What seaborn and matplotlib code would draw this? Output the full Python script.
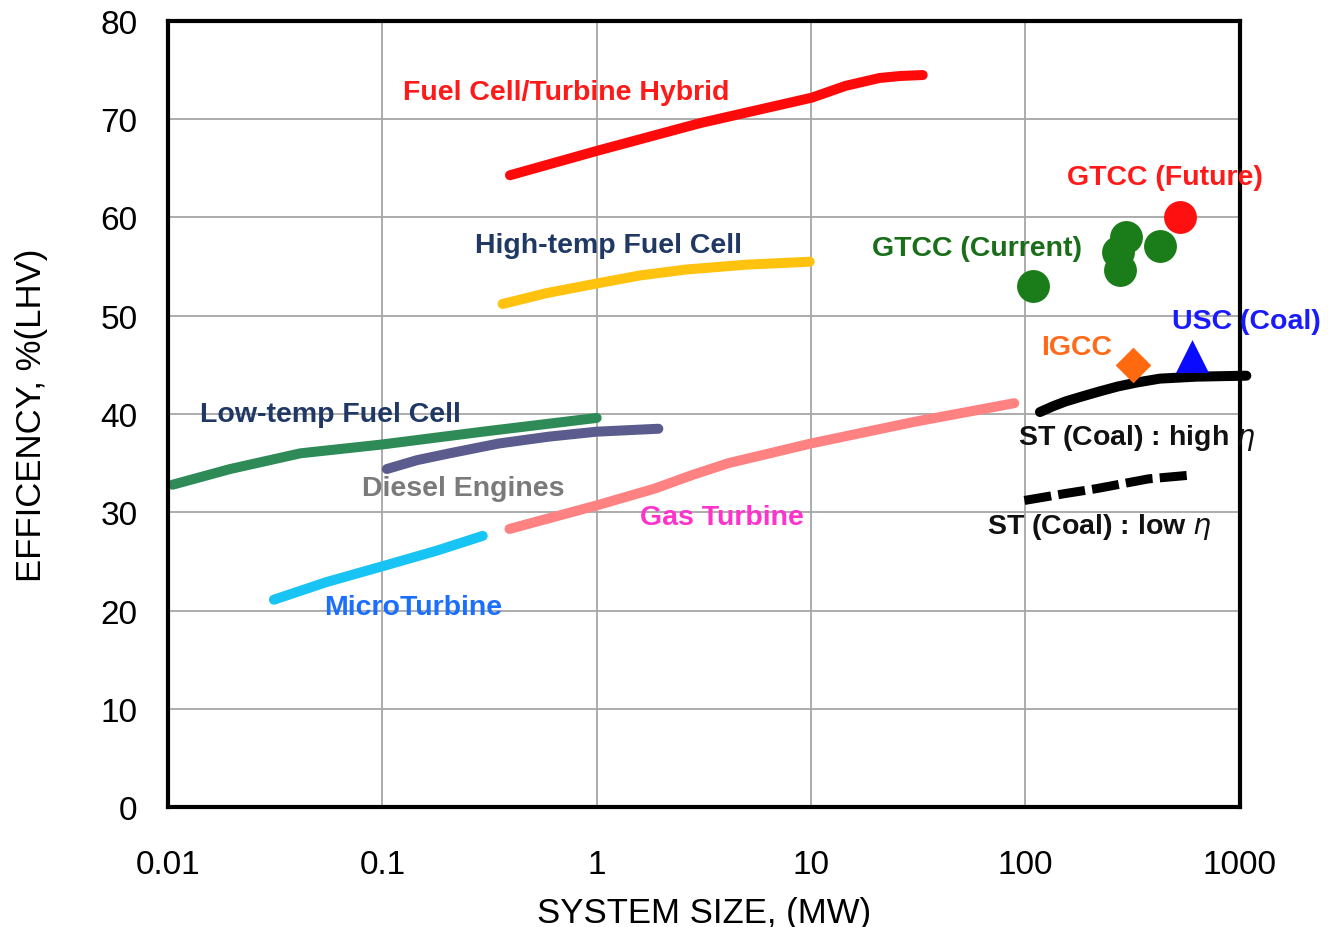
import numpy as np
import pandas as pd
import matplotlib
matplotlib.use("Agg")
import matplotlib.pyplot as plt
import seaborn as sns

# curvas: tamaño del sistema (MW) vs eficiencia (% LHV)
hybrid_mw = [0.394, 1.01, 3.03, 10.1, 14.5, 20.9, 26.0, 33.2]
hybrid_eff = [64.3, 66.8, 69.6, 72.2, 73.4, 74.2, 74.4, 74.5]

hightemp_mw = [0.364, 0.583, 1.01, 1.59, 2.6, 5.0, 9.86]
hightemp_eff = [51.2, 52.3, 53.3, 54.1, 54.7, 55.2, 55.5]

lowtemp_mw = [0.0105, 0.0195, 0.0415, 0.1, 0.294, 1.0]
lowtemp_eff = [32.8, 34.4, 36.0, 36.9, 38.2, 39.6]

diesel_mw = [0.105, 0.145, 0.206, 0.35, 0.601, 1.0, 1.94]
diesel_eff = [34.4, 35.3, 36.0, 37.0, 37.7, 38.2, 38.5]

micro_mw = [0.0312, 0.055, 0.1, 0.18, 0.294]
micro_eff = [21.1, 22.9, 24.5, 26.1, 27.6]

gasturb_mw = [0.392, 1.02, 1.86, 2.8, 4.12, 10.0, 30.3, 88.7]
gasturb_eff = [28.3, 30.75, 32.4, 33.8, 35.0, 37.0, 39.2, 41.1]

st_high_mw = [117, 135, 155, 185, 222, 270, 330, 424, 628, 1074]
st_high_eff = [40.2, 40.8, 41.3, 41.8, 42.3, 42.8, 43.2, 43.6, 43.8, 43.9]

st_low_mw = [99, 153, 214, 376, 605]
st_low_eff = [31.2, 31.9, 32.4, 33.4, 33.8]

# puntos
gtcc_cur_mw = [108.6, 275, 270, 296, 423]
gtcc_cur_eff = [53.0, 54.7, 56.5, 58.0, 57.1]
gtcc_fut_mw = [525]
gtcc_fut_eff = [60.0]
igcc_mw = [318]
igcc_eff = [45.0]
usc_mw = [600]
usc_eff = [45.9]

xticks = [0.01, 0.1, 1, 10, 100, 1000]
xtick_labels = ["0.01", "0.1", "1", "10", "100", "1000"]
yticks = [0, 10, 20, 30, 40, 50, 60, 70, 80]

curvas = {
    "hybrid": (hybrid_mw, hybrid_eff, "#ff0a0a"),
    "hightemp": (hightemp_mw, hightemp_eff, "#ffc20e"),
    "lowtemp": (lowtemp_mw, lowtemp_eff, "#2e8b57"),
    "diesel": (diesel_mw, diesel_eff, "#5b5b8e"),
    "micro": (micro_mw, micro_eff, "#18c4f4"),
    "gasturb": (gasturb_mw, gasturb_eff, "#ff8282"),
    "st_high": (st_high_mw, st_high_eff, "#000000"),
}
df_lineas = pd.concat(
    [pd.DataFrame({"mw": v[0], "eff": v[1], "tipo": k}) for k, v in curvas.items()],
    ignore_index=True,
)
paleta = {k: v[2] for k, v in curvas.items()}

sns.set_style("whitegrid")
plt.rcParams["font.family"] = ["Liberation Sans", "DejaVu Sans"]
plt.rcParams["text.color"] = "black"
plt.rcParams["axes.labelcolor"] = "black"
plt.rcParams["xtick.color"] = "black"
plt.rcParams["ytick.color"] = "black"

fig = plt.figure(figsize=(13.28, 9.28), dpi=100)
ax = fig.add_axes([0.1265, 0.1293, 0.807, 0.847])

sns.lineplot(data=df_lineas, x="mw", y="eff", hue="tipo", palette=paleta,
             sort=False, estimator=None, linewidth=7.2, legend=False, ax=ax)
for ln in ax.lines:
    ln.set_solid_capstyle("round")
    ln.set_solid_joinstyle("round")
    ln.set_clip_on(False)

sns.lineplot(x=st_low_mw, y=st_low_eff, color="black", linewidth=6.5,
             sort=False, estimator=None, ax=ax, dashes=False)
ax.lines[-1].set_linestyle((0, (3.0, 0.8)))
ax.lines[-1].set_dash_capstyle("butt")

sns.scatterplot(x=gtcc_cur_mw, y=gtcc_cur_eff, color="#1a7d1a", s=560,
                linewidth=0, ax=ax, zorder=5)
sns.scatterplot(x=gtcc_fut_mw, y=gtcc_fut_eff, color="#ff1010", s=560,
                linewidth=0, ax=ax, zorder=5)
sns.scatterplot(x=igcc_mw, y=igcc_eff, color="#ff6a10", marker="D", s=330,
                linewidth=0, ax=ax, zorder=5)
sns.scatterplot(x=usc_mw, y=usc_eff, color="#0a0aff", marker="^", s=560,
                linewidth=0, ax=ax, zorder=5)

etiquetas = [
    ("Fuel Cell/Turbine Hybrid", 0.718, 72.8, "#ff1a1a"),
    ("High-temp Fuel Cell", 1.13, 57.2, "#1f3864"),
    ("GTCC (Current)", 59.3, 56.9, "#1a6e1a"),
    ("GTCC (Future)", 447, 64.1, "#ff1a1a"),
    ("USC (Coal)", 1079, 49.5, "#1a1aff"),
    ("IGCC", 174, 46.8, "#ff6a1a"),
    ("Low-temp Fuel Cell", 0.057, 40.0, "#1f3864"),
    ("ST (Coal) : high $\\eta$", 331, 37.7, "#111111"),
    ("Diesel Engines", 0.238, 32.5, "#7a7a7a"),
    ("Gas Turbine", 3.84, 29.5, "#ff33cc"),
    ("ST (Coal) : low $\\eta$", 222, 28.6, "#111111"),
    ("MicroTurbine", 0.139, 20.4, "#1a6fff"),
]
for txt, x, y, c in etiquetas:
    ax.text(x, y, txt, color=c, fontsize=20.5, fontweight="bold",
            ha="center", va="center", zorder=6)

ax.set_xscale("log")
ax.set_xlim(0.01, 1000)
ax.set_ylim(0, 80)
ax.set_xticks(xticks)
ax.set_xticklabels(xtick_labels)
ax.set_yticks(yticks)
ax.minorticks_off()
ax.tick_params(axis="x", labelsize=24, pad=30, length=0, labelcolor="black")
ax.tick_params(axis="y", labelsize=24, pad=22, length=0, labelcolor="black")
ax.grid(True, color="#a6a6a6", linewidth=1.3)
ax.set_axisbelow(True)
for sp in ax.spines.values():
    sp.set_color("black")
    sp.set_linewidth(3)

ax.set_xlabel("SYSTEM SIZE, (MW)", fontsize=25, labelpad=12, color="black")
ax.set_ylabel("EFFICENCY, %(LHV)", fontsize=25, labelpad=38, color="black")

plt.savefig("out.png", dpi=100)
